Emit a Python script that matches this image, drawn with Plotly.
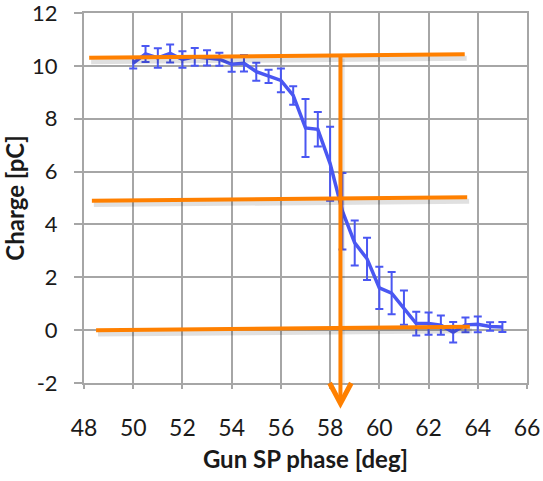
import plotly.graph_objects as go

# Data
phase = [50, 50.5, 51, 51.5, 52, 52.5, 53, 53.5, 54, 54.5, 55, 55.5, 56, 56.5, 57, 57.5,
         58, 58.5, 59, 59.5, 60, 60.5, 61, 61.5, 62, 62.5, 63, 63.5, 64, 64.5, 65]
charge = [10.1, 10.45, 10.3, 10.47, 10.24, 10.34, 10.3, 10.25, 10.06, 10.1, 9.78, 9.6, 9.45, 8.88, 7.65, 7.6,
          6.3, 4.5, 3.3, 2.7, 1.6, 1.4, 0.85, 0.25, 0.25, 0.19, -0.08, 0.2, 0.22, 0.14, 0.12]
charge_err = [0.2, 0.3, 0.37, 0.34, 0.31, 0.34, 0.29, 0.25, 0.28, 0.31, 0.34, 0.25, 0.45, 0.35, 1.1, 0.65,
              1.4, 1.45, 0.85, 0.8, 0.8, 0.8, 0.65, 0.45, 0.42, 0.36, 0.39, 0.28, 0.3, 0.16, 0.19]

x_ticks = [48, 50, 52, 54, 56, 58, 60, 62, 64, 66]
y_ticks = [-2, 0, 2, 4, 6, 8, 10, 12]
x_range = [48, 66]
y_range = [-2, 12]

# Orange guide lines (x0, y0, x1, y1) in data units
guide_lines = [
    (48.21, 10.31, 63.47, 10.44),
    (48.32, 4.90, 63.57, 5.03),
    (48.49, 0.00, 63.68, 0.125),
]
guide_vertical_x = 58.42
guide_vertical_top = 10.38
arrow_tip_y = -2.77
arrow_head_top_y = -2.0
arrow_head_halfwidth = 0.44

ORANGE = "#ff8000"
BLUE = "#4a57f2"
GRID = "#a6a6a6"
TEXT = "#1a1a1a"
FONT = "Lato, 'Open Sans', sans-serif"

fig = go.Figure()
fig.add_trace(go.Scatter(
    x=phase, y=charge, mode="lines",
    line=dict(color=BLUE, width=3.5),
    error_y=dict(type="data", array=charge_err, visible=True, color=BLUE, thickness=2, width=4),
    showlegend=False,
))


def to_paper(y):
    return (y - y_range[0]) / (y_range[1] - y_range[0])


shapes = []
for (x0, y0, x1, y1) in guide_lines:
    # soft shadow
    shapes.append(dict(type="line", xref="x", yref="y", x0=x0 + 0.08, y0=y0 - 0.15, x1=x1 + 0.08, y1=y1 - 0.15,
                       line=dict(color="rgba(0,0,0,0.12)", width=5), layer="above"))
shapes.append(dict(type="line", xref="x", yref="paper",
                   x0=guide_vertical_x + 0.09, y0=to_paper(guide_vertical_top - 0.1),
                   x1=guide_vertical_x + 0.09, y1=to_paper(arrow_head_top_y),
                   line=dict(color="rgba(0,0,0,0.10)", width=4), layer="above"))
for (x0, y0, x1, y1) in guide_lines:
    shapes.append(dict(type="line", xref="x", yref="y", x0=x0, y0=y0, x1=x1, y1=y1,
                       line=dict(color=ORANGE, width=4), layer="above"))

shapes.append(dict(type="line", xref="x", yref="paper",
                   x0=guide_vertical_x, y0=to_paper(guide_vertical_top),
                   x1=guide_vertical_x, y1=to_paper(arrow_tip_y + 0.1),
                   line=dict(color=ORANGE, width=4), layer="above"))
shapes.append(dict(type="path", xref="x", yref="paper",
                   path=(f"M {guide_vertical_x - arrow_head_halfwidth},{to_paper(arrow_head_top_y)} "
                         f"L {guide_vertical_x},{to_paper(arrow_tip_y)} "
                         f"L {guide_vertical_x + arrow_head_halfwidth},{to_paper(arrow_head_top_y)}"),
                   line=dict(color=ORANGE, width=5), layer="above"))

fig.update_layout(
    width=543, height=481,
    margin=dict(l=84, r=16, t=13, b=98),
    paper_bgcolor="white", plot_bgcolor="white",
    font=dict(family=FONT, color=TEXT),
    shapes=shapes,
    xaxis=dict(
        range=x_range, tickvals=x_ticks, ticktext=[str(v) for v in x_ticks],
        showgrid=True, gridcolor=GRID, gridwidth=2,
        showline=True, linecolor=GRID, linewidth=2, mirror=True,
        zeroline=False, automargin=False,
        ticks="outside", ticklen=4, tickcolor=GRID, tickwidth=2,
        ticklabelstandoff=19, ticklabeloverflow="allow",
        tickfont=dict(size=23, family=FONT, color=TEXT),
        title=dict(text="<b>Gun SP phase [deg]</b>", font=dict(size=24, family=FONT, color=TEXT), standoff=12),
    ),
    yaxis=dict(
        range=y_range, tickvals=y_ticks, ticktext=[str(v) for v in y_ticks],
        showgrid=True, gridcolor=GRID, gridwidth=2,
        showline=True, linecolor=GRID, linewidth=2, mirror=True,
        zeroline=False, automargin=False,
        ticks="outside", ticklen=8, tickcolor=GRID, tickwidth=2,
        ticklabelstandoff=12, ticklabeloverflow="allow",
        tickfont=dict(size=22, family=FONT, color=TEXT),
        title=dict(text="<b>Charge [pC]</b>", font=dict(size=24, family=FONT, color=TEXT), standoff=4),
    ),
)

fig.write_html("out.html")
